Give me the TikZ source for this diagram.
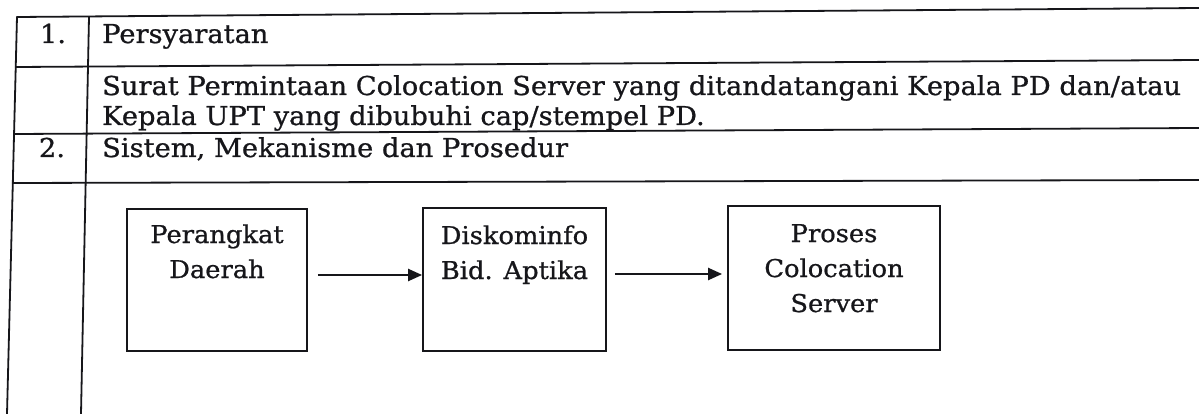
\documentclass[tikz,border=0pt]{standalone}
\usepackage{fontspec}
\setmainfont{DejaVu Serif}[FakeStretch=1.05, FakeBold=0.8]
\usetikzlibrary{arrows.meta}
\definecolor{ink}{RGB}{22,22,26}
\begin{document}
\begin{tikzpicture}[x=1pt,y=-1pt,
  rule/.style={draw=ink, line width=1.8pt, line cap=round},
  cell/.style={inner sep=0pt, font=\fontsize{26}{30}\selectfont, text=ink},
  stepbox/.style={draw=ink, line width=1.8pt, inner sep=0pt, fill=none},
  boxtext/.style={inner sep=0pt, align=center, font=\fontsize{24.5}{35}\selectfont, text=ink},
  flow/.style={draw=ink, line width=2.2pt, -{Triangle[length=14pt,width=12pt]}}]
\useasboundingbox (0,0) rectangle (1199,414);
\fill[white] (0,0) rectangle (1199,414);
% table rules
\coordinate (lt) at (17,17);
\coordinate (lb) at (7,414);
\coordinate (dt) at (89,17);
\coordinate (db) at (81,414);
\draw[rule] (lt) -- (lb);
\draw[rule] (dt) -- (db);
\draw[rule] (17,17) -- (1199,8);
\draw[rule] (15.7,67) -- (1199,60);
\draw[rule] (14.1,134) -- (1199,128);
\draw[rule] (12.8,183) -- (1199,180);
% table texts
\node[cell, anchor=base] (n1) at (53,43) {1.};
\node[cell, anchor=base west] (t1) at (102,43) {Persyaratan};
\node[cell, anchor=base west, align=left] (t2) at (102,125)
  {Surat Permintaan Colocation Server yang ditandatangani Kepala PD dan/atau\\Kepala UPT yang dibubuhi cap/stempel PD.};
\node[cell, anchor=base] (n2) at (52,157) {2.};
\node[cell, anchor=base west] (t3) at (102,157) {Sistem, Mekanisme dan Prosedur};
% flow boxes
\node[stepbox, minimum width=180pt, minimum height=142pt] (pd) at (217,280) {};
\node[stepbox, minimum width=183pt, minimum height=143pt] (dk) at (514.5,279.5) {};
\node[stepbox, minimum width=212pt, minimum height=144pt] (pc) at (834,278) {};
\node[boxtext, anchor=base] (pdt) at (217,278) {Perangkat\\Daerah};
\node[boxtext, anchor=base] (dkt) at (514.5,279) {Diskominfo\\Bid. Aptika};
\node[boxtext, anchor=base] (pct) at (834,312) {Proses\\Colocation\\Server};
% arrows
\coordinate (a1) at (0,275);
\coordinate (a2) at (0,274);
\draw[flow, shorten <=10pt] (pd.east |- a1) -- (dk.west |- a1);
\draw[flow, shorten <=8pt, shorten >=5pt] (dk.east |- a2) -- (pc.west |- a2);
\end{tikzpicture}
\end{document}
